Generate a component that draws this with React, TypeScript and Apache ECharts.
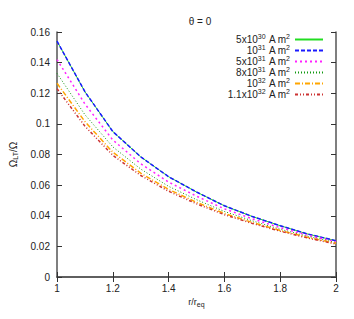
import React, { useEffect, useRef } from "react";
import * as echarts from "echarts";

const rValues = [1.0, 1.1, 1.2, 1.3, 1.4, 1.5, 1.6, 1.7, 1.8, 1.9, 2.0];
const seriesNames = ["5e30", "1e31", "5e31", "8e31", "1e32", "1.1e32"];
const legendLabels: Record<string, string> = {
  "5e30": "5x10{sup|30} A m{sup|2}",
  "1e31": "10{sup|31} A m{sup|2}",
  "5e31": "5x10{sup|31} A m{sup|2}",
  "8e31": "8x10{sup|31} A m{sup|2}",
  "1e32": "10{sup|32} A m{sup|2}",
  "1.1e32": "1.1x10{sup|32} A m{sup|2}",
};
const s5e30 = [0.154, 0.121, 0.095, 0.0785, 0.0655, 0.0555, 0.0465, 0.0395, 0.0335, 0.028, 0.0237];
const s1e31 = [0.154, 0.121, 0.095, 0.0785, 0.0655, 0.0555, 0.0465, 0.0395, 0.0335, 0.028, 0.0237];
const s5e31 = [0.142, 0.113, 0.0895, 0.074, 0.062, 0.0528, 0.0445, 0.038, 0.0322, 0.0272, 0.023];
const s8e31 = [0.133, 0.106, 0.085, 0.0705, 0.0592, 0.0505, 0.0428, 0.0367, 0.0312, 0.0265, 0.0225];
const s1e32 = [0.1265, 0.1015, 0.0815, 0.0678, 0.0572, 0.0488, 0.0415, 0.0356, 0.0304, 0.0258, 0.022];
const s11e32 = [0.123, 0.0985, 0.0795, 0.0663, 0.056, 0.0478, 0.0407, 0.035, 0.0299, 0.0254, 0.0215];
const allValues = [s5e30, s1e31, s5e31, s8e31, s1e32, s11e32];
const colors = ["#22dd22", "#1a1aff", "#ff22ff", "#119911", "#ffa500", "#cc3333"];
const lineTypes: any[] = ["solid", [4, 2], [2, 3], [1, 2], [5, 2, 1, 2], [3, 2, 1, 2, 1, 2]];
const widths = [1, 1.5, 1.5, 1, 1.5, 1.5];
const xTicks = [1, 1.2, 1.4, 1.6, 1.8, 2];

export default function App() {
  const ref = useRef<HTMLDivElement>(null);
  useEffect(() => {
    if (!ref.current) return;
    const chart = echarts.init(ref.current, undefined, { renderer: "svg" });
    const font = "Liberation Sans";
    const axisLine = { show: true, lineStyle: { color: "#555", width: 1.5 } };
    const tick = { show: true, inside: true, length: 5, lineStyle: { color: "#333" } };
    chart.setOption({
      animation: false,
      backgroundColor: "#fff",
      title: {
        text: "θ = 0",
        left: 195,
        top: 11,
        textAlign: "center",
        textStyle: { fontFamily: font, fontSize: 10, fontWeight: "normal", color: "#222" },
      },
      legend: {
        orient: "vertical",
        right: 30,
        top: 33,
        align: "right",
        itemWidth: 28,
        itemHeight: 8,
        itemGap: -2,
        padding: 0,
        itemStyle: { opacity: 0 },
        data: seriesNames,
        formatter: (n: string) => legendLabels[n],
        textStyle: {
          fontFamily: font,
          fontSize: 10,
          lineHeight: 10,
          color: "#222",
          rich: {
            sup: { fontSize: 7, lineHeight: 4, fontFamily: font, color: "#222", padding: [0, 0, 6, 0] },
          },
        },
      },
      grid: { left: 54, right: 18, top: 32, bottom: 42, show: false },
      xAxis: [
        {
          type: "value",
          min: 1,
          max: 2,
          interval: 0.2,
          position: "bottom",
          name: "r/r{sub|eq}",
          nameLocation: "middle",
          nameGap: 17,
          nameTextStyle: {
            fontFamily: font,
            fontSize: 9,
            color: "#222",
            rich: { sub: { fontSize: 7, fontFamily: font, color: "#222", padding: [5, 0, 0, 0] } },
          },
          axisLine,
          axisTick: tick,
          splitLine: { show: false },
          axisLabel: {
            fontFamily: font,
            fontSize: 10,
            color: "#222",
            margin: 6,
            formatter: (v: number) => (xTicks.some((t) => Math.abs(t - v) < 1e-6) ? String(+v.toFixed(1)) : ""),
          },
        },
        {
          type: "value",
          min: 1,
          max: 2,
          interval: 0.2,
          position: "top",
          axisLine,
          axisTick: tick,
          axisLabel: { show: false },
          splitLine: { show: false },
        },
      ],
      yAxis: [
        {
          type: "value",
          min: 0,
          max: 0.16,
          interval: 0.02,
          position: "left",
          name: "Ω{sub|LT}/Ω",
          nameLocation: "middle",
          nameRotate: 90,
          nameGap: 38,
          nameTextStyle: {
            fontFamily: font,
            fontSize: 10,
            color: "#222",
            rich: { sub: { fontSize: 7, fontFamily: font, color: "#222", padding: [5, 0, 0, 0] } },
          },
          axisLine,
          axisTick: tick,
          splitLine: { show: false },
          axisLabel: {
            fontFamily: font,
            fontSize: 10,
            color: "#222",
            margin: 7,
            formatter: (v: number) => String(+v.toFixed(2)),
          },
        },
        {
          type: "value",
          min: 0,
          max: 0.16,
          interval: 0.02,
          position: "right",
          axisLine,
          axisTick: tick,
          axisLabel: { show: false },
          splitLine: { show: false },
        },
      ],
      series: seriesNames.map((n, i) => ({
        name: n,
        type: "line",
        xAxisIndex: 0,
        yAxisIndex: 0,
        showSymbol: false,
        symbol: "none",
        z: i === 0 ? 1 : 2 + i,
        data: rValues.map((r, j) => [r, allValues[i][j]]),
        color: colors[i],
        lineStyle: { color: colors[i], width: widths[i], type: lineTypes[i] },
      })),
    });
    return () => chart.dispose();
  }, []);
  return <div ref={ref} style={{ width: 354, height: 319, margin: -8 }} />;
}
